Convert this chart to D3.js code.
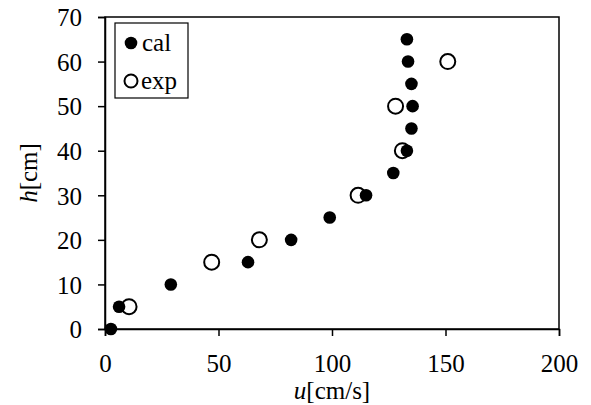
<!DOCTYPE html>
<html>
<head>
<meta charset="utf-8">
<script src="https://cdn.jsdelivr.net/npm/d3@7.9.0/dist/d3.min.js"></script>
<style>
  body { margin: 0; background: #fff; }
</style>
</head>
<body>
<svg id="chart" width="591" height="405"></svg>
<script>
// calculated profile
const calU = [2.6, 6.2, 29, 63, 82, 99, 115, 127, 133, 135, 135.5, 135, 133.5, 133];
const calH = [0, 5, 10, 15, 20, 25, 30, 35, 40, 45, 50, 55, 60, 65];
// experiment
const expU = [10.6, 47, 68, 111.5, 131, 128, 151];
const expH = [5, 15, 20, 30, 40, 50, 60];

const xTicks = [0, 50, 100, 150, 200];
const yTicks = [0, 10, 20, 30, 40, 50, 60, 70];

const svg = d3.select('#chart');
const plotLeft = 105, plotRight = 559, plotTop = 17, plotBottom = 329;

const x = d3.scaleLinear().domain([0, 200]).range([plotLeft, plotRight]);
const y = d3.scaleLinear().domain([0, 70]).range([plotBottom, plotTop]);

// frame
svg.append('rect')
    .attr('x', plotLeft).attr('y', plotTop)
    .attr('width', plotRight - plotLeft).attr('height', plotBottom - plotTop)
    .attr('fill', 'none').attr('stroke', '#000').attr('stroke-width', 1.5);

const xAxis = svg.append('g')
    .attr('transform', `translate(0,${plotBottom})`)
    .call(d3.axisBottom(x).tickValues(xTicks).tickSize(7).tickPadding(10));
const yAxis = svg.append('g')
    .attr('transform', `translate(${plotLeft},0)`)
    .call(d3.axisLeft(y).tickValues(yTicks).tickSize(7).tickPadding(16));

[xAxis, yAxis].forEach(g => {
    g.attr('font-family', null).attr('font-size', null);
    g.select('.domain').attr('stroke-width', 1.5);
    g.selectAll('.tick line').attr('stroke-width', 1.5);
    g.selectAll('.tick text')
        .attr('font-family', 'Liberation Serif')
        .attr('font-size', 25)
        .attr('fill', '#000');
});
xAxis.selectAll('.tick text').attr('dy', '1.05em');
yAxis.selectAll('.tick text').attr('dy', '0.35em');

// axis titles
const xt = svg.append('text')
    .attr('x', x(100)).attr('y', 399)
    .attr('text-anchor', 'middle')
    .attr('font-family', 'Liberation Serif').attr('font-size', 25);
xt.append('tspan').attr('font-style', 'italic').text('u');
xt.append('tspan').text('[cm/s]');

const yt = svg.append('text')
    .attr('transform', `translate(37,${(plotTop + plotBottom) / 2}) rotate(-90)`)
    .attr('text-anchor', 'middle')
    .attr('font-family', 'Liberation Serif').attr('font-size', 25);
yt.append('tspan').attr('font-style', 'italic').text('h');
yt.append('tspan').text('[cm]');

// points
svg.append('g').selectAll('circle')
    .data(expU.map((u, i) => ({ u, h: expH[i] })))
    .join('circle')
    .attr('cx', d => x(d.u)).attr('cy', d => y(d.h))
    .attr('r', 7.5)
    .attr('fill', '#fff').attr('stroke', '#000').attr('stroke-width', 2);

svg.append('g').selectAll('circle')
    .data(calU.map((u, i) => ({ u, h: calH[i] })))
    .join('circle')
    .attr('cx', d => x(d.u)).attr('cy', d => y(d.h))
    .attr('r', 6.3)
    .attr('fill', '#000');

// legend
const lg = svg.append('g');
lg.append('rect')
    .attr('x', 115).attr('y', 23).attr('width', 73).attr('height', 75)
    .attr('fill', '#fff').attr('stroke', '#000').attr('stroke-width', 1.2);
lg.append('circle').attr('cx', 131).attr('cy', 43).attr('r', 6.3).attr('fill', '#000');
lg.append('circle').attr('cx', 131).attr('cy', 81).attr('r', 6.5)
    .attr('fill', '#fff').attr('stroke', '#000').attr('stroke-width', 2);
lg.append('text').attr('x', 142).attr('y', 51)
    .attr('font-family', 'Liberation Serif').attr('font-size', 25).text('cal');
lg.append('text').attr('x', 141).attr('y', 89)
    .attr('font-family', 'Liberation Serif').attr('font-size', 25).text('exp');
</script>
</body>
</html>
